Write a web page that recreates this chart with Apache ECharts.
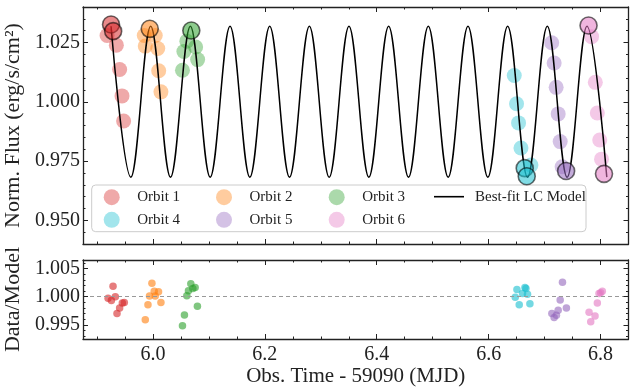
<!DOCTYPE html>
<html>
<head>
<meta charset="utf-8">
<script src="https://cdn.jsdelivr.net/npm/echarts@6/dist/echarts.min.js"></script>
<style>
  html, body { margin: 0; padding: 0; background: #fff; }
  #chart { width: 636px; height: 387px; }
</style>
</head>
<body>
<div id="chart"></div>
<script>
// ---- data ----
const orbitNames = ["Orbit 1", "Orbit 2", "Orbit 3", "Orbit 4", "Orbit 5", "Orbit 6"];
const orbitColors = ["#d62728", "#ff7f0e", "#2ca02c", "#17becf", "#9467bd", "#e377c2"];
const modelName = "Best-fit LC Model";

// [time, norm. flux]
const orbit1Flux = [[5.9180, 1.0280], [5.9346, 1.0239], [5.9405, 1.0136], [5.9447, 1.0025], [5.9476, 0.9919]];
const orbit2Flux = [[5.9845, 1.0280], [6.0041, 1.0280], [5.9863, 1.0235], [6.0086, 1.0225], [6.0103, 1.0131], [6.0143, 1.0042]];
const orbit3Flux = [[6.0606, 1.0256], [6.0763, 1.0231], [6.0553, 1.0212], [6.0799, 1.0178], [6.0528, 1.0133]];
const orbit4Flux = [[6.6458, 1.0111], [6.6499, 0.9992], [6.6535, 0.9911], [6.6578, 0.9805], [6.6756, 0.9733]];
const orbit5Flux = [[6.7127, 1.0249], [6.7171, 1.0164], [6.7207, 1.0061], [6.7243, 0.9949], [6.7279, 0.9832], [6.7314, 0.9726]];
const orbit6Flux = [[6.7840, 1.0275], [6.7907, 1.0082], [6.7943, 0.9953], [6.7986, 0.9839], [6.8018, 0.9758]];

// points drawn with a dark edge (at the light-curve extremes)
const orbit1Edge = [[5.9251, 1.0326], [5.9289, 1.0298]];
const orbit2Edge = [[5.9943, 1.0308]];
const orbit3Edge = [[6.0686, 1.0301]];
const orbit4Edge = [[6.6645, 0.9720], [6.6681, 0.9686]];
const orbit5Edge = [[6.7385, 0.9708]];
const orbit6Edge = [[6.7786, 1.0322], [6.8062, 0.9696]];

// [time, data/model]
const orbit1Resid = [[5.9198, 0.99973], [5.9257, 0.99932], [5.9287, 1.00183], [5.9328, 1.0000], [5.9358, 0.99704], [5.9405, 0.99801], [5.9453, 0.99887], [5.9488, 0.99897]];
const orbit2Resid = [[5.9863, 0.99589], [5.9911, 0.99858], [5.9939, 1.00012], [5.9982, 1.0024], [6.0023, 1.00098], [6.0041, 1.00012], [6.0100, 1.00086], [6.0143, 0.99897]];
const orbit3Resid = [[6.0528, 0.99486], [6.0563, 0.99675], [6.0606, 1.00017], [6.0635, 1.00103], [6.0677, 1.00229], [6.0713, 1.00144], [6.0754, 1.00161], [6.0795, 0.99829]];
const orbit4Resid = [[6.6476, 0.9999], [6.6506, 1.00127], [6.6547, 0.99858], [6.6606, 1.00058], [6.6649, 1.00161], [6.6667, 1.00144], [6.6695, 1.00041], [6.6738, 0.99875]];
const orbit5Resid = [[6.7130, 0.99704], [6.7171, 0.9963], [6.7212, 0.9967], [6.7243, 0.9976], [6.7279, 0.99943], [6.7320, 1.00257], [6.7390, 0.99801]];
const orbit6Resid = [[6.7795, 0.99726], [6.7825, 0.99555], [6.7902, 0.99658], [6.7943, 0.99887], [6.7973, 1.00058], [6.8003, 1.00068], [6.8032, 1.00098]];

// model maxima / minima (alternating), drawn as a smoothed curve
const modelTime = [5.9251, 5.9605, 5.9960, 6.0314, 6.0669, 6.1023, 6.1378, 6.1732, 6.2087, 6.2441,
  6.2796, 6.3150, 6.3504, 6.3859, 6.4213, 6.4568, 6.4922, 6.5277, 6.5631, 6.5986,
  6.6340, 6.6695, 6.7049, 6.7403, 6.7758, 6.8112];
const modelFlux = [1.0319, 0.9682, 1.0319, 0.9682, 1.0319, 0.9682, 1.0319, 0.9682, 1.0319, 0.9682,
  1.0319, 0.9682, 1.0319, 0.9682, 1.0319, 0.9682, 1.0319, 0.9682, 1.0319, 0.9682,
  1.0319, 0.9682, 1.0319, 0.9682, 1.0319, 0.9682];

// axis ranges
const timeMin = 5.875, timeMax = 6.85;
const fluxMin = 0.94, fluxMax = 1.04;
const residMin = 0.9925, residMax = 1.0065;

const orbitFlux = [orbit1Flux, orbit2Flux, orbit3Flux, orbit4Flux, orbit5Flux, orbit6Flux];
const orbitEdge = [orbit1Edge, orbit2Edge, orbit3Edge, orbit4Edge, orbit5Edge, orbit6Edge];
const orbitResid = [orbit1Resid, orbit2Resid, orbit3Resid, orbit4Resid, orbit5Resid, orbit6Resid];

// ---- helpers ----
const FONT = "'Liberation Serif', 'DejaVu Serif', serif";
const AX = "#222";

function rgba(hex, a) {
  const n = parseInt(hex.slice(1), 16);
  return `rgba(${(n >> 16) & 255},${(n >> 8) & 255},${n & 255},${a})`;
}

function steps(lo, hi, step) {
  const out = [];
  const n = Math.round((hi - lo) / step);
  for (let i = 0; i <= n; i++) out.push((lo + i * step).toFixed(4));
  return out;
}

// tick positions as categories so that major/minor ticks sit on round values
const timeCats = steps(timeMin, timeMax, 0.025);
const fluxCats = steps(fluxMin, fluxMax, 0.005);
const residCats = steps(residMin, residMax, 0.0005);

const isMult = (v, unit) => Math.abs(Math.round(+v / unit) * unit - +v) < unit * 1e-3;

function tickAxis(opts) {
  const fn = (i, v) => isMult(v, opts.every);
  const ax = {
    type: "category",
    gridIndex: opts.grid,
    data: opts.cats,
    boundaryGap: false,
    position: opts.position,
    axisLine: { show: opts.major, lineStyle: { color: AX, width: 1.3 } },
    axisTick: { show: true, inside: true, interval: fn, length: opts.major ? 5 : 2.5,
      lineStyle: { color: AX, width: 1 } },
    axisLabel: { show: !!opts.labels, interval: fn, margin: opts.margin || 4,
      formatter: opts.fmt, color: "#222", fontSize: 20, fontFamily: FONT },
    splitLine: { show: false },
    axisPointer: { show: false },
    silent: true,
    z: 6
  };
  if (opts.name) {
    Object.assign(ax, {
      name: opts.name, nameLocation: "middle", nameGap: opts.nameGap,
      nameTextStyle: { color: "#222", fontSize: opts.nameSize || 21, fontFamily: FONT }
    });
  }
  return ax;
}

const xAxes = [
  { type: "value", gridIndex: 0, min: timeMin, max: timeMax, show: false },
  { type: "value", gridIndex: 1, min: timeMin, max: timeMax, show: false }
];
const yAxes = [
  { type: "value", gridIndex: 0, min: fluxMin, max: fluxMax, show: false },
  { type: "value", gridIndex: 1, min: residMin, max: residMax, show: false }
];

[0, 1].forEach((g) => {
  ["bottom", "top"].forEach((pos) => {
    xAxes.push(tickAxis({ grid: g, cats: timeCats, position: pos, major: true, every: 0.2,
      labels: g === 1 && pos === "bottom", fmt: (v) => (+v).toFixed(1), margin: 6,
      name: g === 1 && pos === "bottom" ? "Obs. Time - 59090 (MJD)" : null, nameGap: 24 }));
    xAxes.push(tickAxis({ grid: g, cats: timeCats, position: pos, major: false, every: 0.05 }));
  });
  ["left", "right"].forEach((pos) => {
    const cats = g === 0 ? fluxCats : residCats;
    const majorStep = g === 0 ? 0.025 : 0.005;
    const minorStep = g === 0 ? 0.005 : 0.001;
    yAxes.push(tickAxis({ grid: g, cats, position: pos, major: true, every: majorStep,
      labels: pos === "left", fmt: (v) => (+v).toFixed(3), margin: 3,
      name: pos === "left" ? (g === 0 ? "Norm. Flux (erg/s/cm²)" : "Data/Model") : null,
      nameGap: 58, nameSize: 22 }));
    yAxes.push(tickAxis({ grid: g, cats, position: pos, major: false, every: minorStep }));
  });
});

const series = [];
orbitNames.forEach((name, i) => {
  series.push({
    name, type: "scatter", xAxisIndex: 0, yAxisIndex: 0,
    data: orbitFlux[i], symbolSize: 15,
    itemStyle: { color: orbitColors[i], opacity: 0.4 },
    z: 2, silent: true
  });
});
series.push({
  name: modelName, type: "line", xAxisIndex: 0, yAxisIndex: 0,
  data: modelTime.map((t, i) => [t, modelFlux[i]]),
  smooth: 0.363, showSymbol: false, symbol: "none",
  lineStyle: { color: "#000", width: 1.5 },
  itemStyle: { color: "#000" },
  z: 3, silent: true
});
orbitNames.forEach((name, i) => {
  series.push({
    name, type: "scatter", xAxisIndex: 0, yAxisIndex: 0,
    data: orbitEdge[i], symbolSize: 17,
    itemStyle: { color: rgba(orbitColors[i], 0.68), borderColor: "rgba(0,0,0,0.72)", borderWidth: 1.6 },
    z: 4, silent: true
  });
  const rs = {
    name, type: "scatter", xAxisIndex: 1, yAxisIndex: 1,
    data: orbitResid[i], symbolSize: 7.5,
    itemStyle: { color: orbitColors[i], opacity: 0.6 },
    z: 4, silent: true
  };
  if (i === 0) {
    rs.markLine = {
      silent: true, symbol: "none", label: { show: false },
      lineStyle: { color: "#999", type: [4, 3], width: 1 },
      data: [{ yAxis: 1.0 }]
    };
  }
  series.push(rs);
});

// legend, laid out like the reference's 4x2 box
const legendCols = [111.7, 224, 336.7];
const legendRows = [196.7, 219.3];
const legends = orbitNames.map((name, i) => ({
  data: [name],
  left: legendCols[i % 3] - 8,
  top: legendRows[Math.floor(i / 3)] - 7.5,
  padding: 0, itemWidth: 41, itemHeight: 16, icon: "circle",
  selectedMode: false,
  textStyle: { color: "#222", fontSize: 15, fontFamily: FONT }
}));
legends.push({
  data: [modelName], left: 434, top: legendRows[0] - 7.5, padding: 0,
  itemWidth: 30, itemHeight: 1.6, icon: "rect", selectedMode: false,
  textStyle: { color: "#222", fontSize: 15, fontFamily: FONT, padding: [0, 0, 0, 6] }
});

const chart = echarts.init(document.getElementById("chart"), null, { renderer: "canvas" });
chart.setOption({
  animation: false,
  backgroundColor: "#fff",
  grid: [
    { left: 83, right: 7.5, top: 7, height: 237, outerBoundsMode: "none", containLabel: false },
    { left: 83, right: 7.5, top: 260, height: 79, outerBoundsMode: "none", containLabel: false }
  ],
  xAxis: xAxes,
  yAxis: yAxes,
  legend: legends,
  graphic: [{
    type: "rect", z: 3, silent: true,
    shape: { x: 91.7, y: 185, width: 494.3, height: 46.7, r: 4 },
    style: { fill: "rgba(255,255,255,0.8)", stroke: "#cccccc", lineWidth: 1 }
  }],
  series
});
</script>
</body>
</html>
